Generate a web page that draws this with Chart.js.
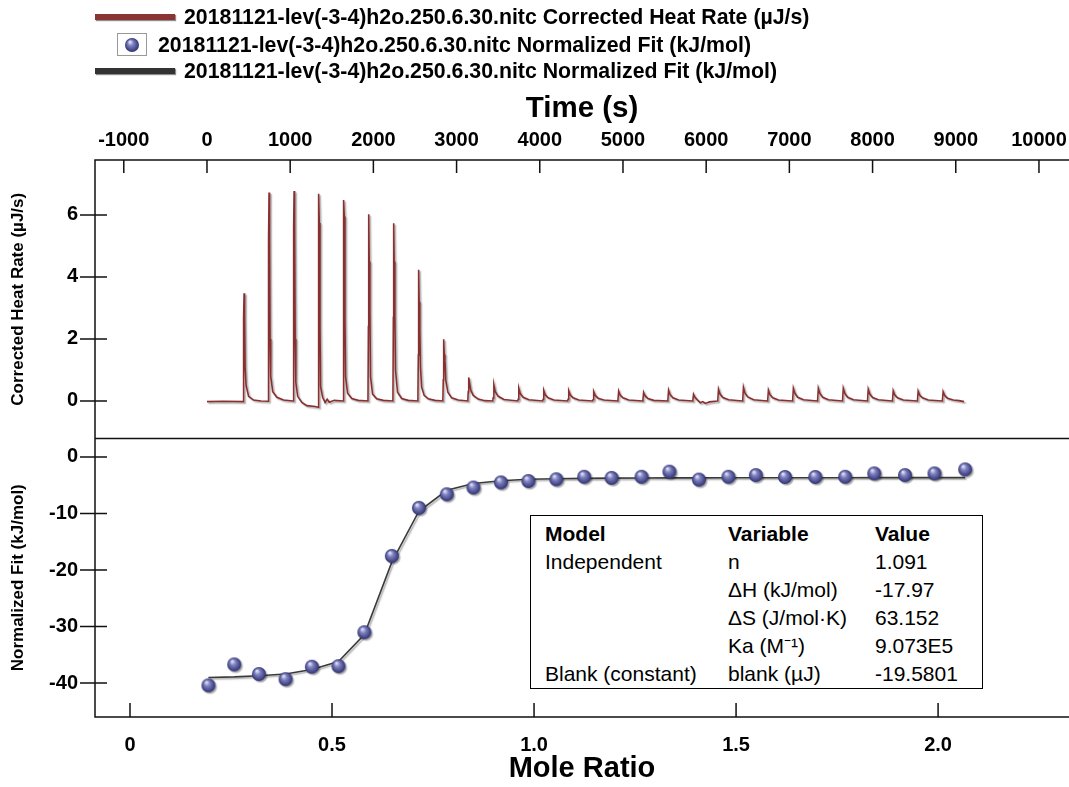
<!DOCTYPE html>
<html>
<head>
<meta charset="utf-8">
<script src="https://cdn.jsdelivr.net/npm/chart.js@4.4.0/dist/chart.umd.min.js"></script>
<style>
  body { margin: 0; background: #fff; }
  #wrap { position: relative; width: 1069px; height: 787px; font-family: "Liberation Sans", Arial, sans-serif; color: #000; overflow: hidden; }
  #chart { position: absolute; left: 0; top: 0; }
  .leg { position: absolute; font-weight: bold; font-size: 21.3px; line-height: 24px; white-space: nowrap; }
  .bar { position: absolute; left: 95px; width: 80px; height: 6px; box-shadow: 1px 1px 1px rgba(0,0,0,.45); }
  .mark { position: absolute; left: 117px; top: 33px; width: 30px; height: 23px; border: 1px solid #999; background: #fff; box-sizing: border-box; }
  .mark img { position: absolute; left: 6px; top: 3px; }
  #params { position: absolute; left: 530px; top: 515px; width: 453px; height: 174px; border: 1.5px solid #000;
            box-sizing: border-box; background: #fff; font-size: 21px; padding: 4px 0 0 14px; }
  #params table { border-collapse: collapse; }
  #params td { padding: 0; height: 28px; line-height: 28px; white-space: nowrap; }
  #params tr:first-child td { font-weight: bold; }
</style>
</head>
<body>
<div id="wrap">
  <canvas id="chart" width="1069" height="787"></canvas>
  <div class="bar" style="top:14px;background:#8a3434"></div>
  <div class="leg" id="leg0" style="left:184px;top:5px"></div>
  <div class="mark"><img id="legDot" alt=""></div>
  <div class="leg" id="leg1" style="left:158px;top:33px"></div>
  <div class="bar" style="top:68px;background:#333"></div>
  <div class="leg" id="leg2" style="left:184px;top:59px"></div>
  <div id="params"><table id="ptable"></table></div>
</div>
<script>
// series names
const seriesNames = [
    '20181121-lev(-3-4)h2o.250.6.30.nitc Corrected Heat Rate (µJ/s)',
    '20181121-lev(-3-4)h2o.250.6.30.nitc Normalized Fit (kJ/mol)',
    '20181121-lev(-3-4)h2o.250.6.30.nitc Normalized Fit (kJ/mol)'
];

// raw heat rate trace [time (s), µJ/s]
const heatTrace = [
    [0, -0.02], [200, -0.01], [435, -0.02],
    [440, 2.7], [446, 3.47], [452, 2.7], [458, 1.1], [470, 0.5], [500, 0.15], [560, 0.03], [650, 0.0], [735, -0.01],
    [740, 5.2], [746, 6.72], [752, 5.2], [758, 2.0], [766, 0.8], [790, 0.3], [840, 0.12], [920, 0.03], [1035, 0.0],
    [1040, 4.55], [1043, 5.6], [1047, 6.77], [1053, 5.6], [1060, 2.0], [1068, 0.6], [1090, 0.15], [1140, -0.05], [1200, -0.15], [1300, -0.18], [1335, -0.2],
    [1340, 3.5], [1344, 6.68], [1350, 5.74], [1358, 2.4], [1366, 0.46], [1390, 0.12], [1420, -0.05], [1445, 0.06], [1470, -0.04], [1530, 0.02], [1635, 0.0],
    [1640, 3.16], [1644, 6.48], [1650, 5.95], [1658, 2.6], [1666, 0.78], [1690, 0.25], [1740, 0.08], [1820, 0.02], [1935, 0.0],
    [1940, 2.4], [1944, 6.02], [1950, 4.5], [1958, 2.83], [1966, 0.78], [1990, 0.22], [2040, 0.07], [2120, 0.02], [2235, 0.0],
    [2240, 2.7], [2244, 5.73], [2250, 4.5], [2258, 2.72], [2266, 1.0], [2290, 0.28], [2340, 0.08], [2420, 0.02], [2535, 0.0],
    [2540, 1.48], [2544, 4.23], [2550, 3.2], [2558, 2.29], [2566, 1.1], [2580, 0.45], [2610, 0.18], [2660, 0.07], [2740, 0.02], [2835, 0.0],
    [2840, 0.68], [2845, 1.99], [2852, 1.5], [2860, 1.32], [2870, 0.68], [2895, 0.28], [2940, 0.1], [3020, 0.03], [3135, 0.0],
    [3140, 0.3], [3146, 0.76], [3155, 0.6], [3170, 0.35], [3200, 0.18], [3260, 0.06], [3340, 0.01], [3435, 0.0],
    [3440, 0.1], [3448, 0.52], [3465, 0.3], [3500, 0.15], [3570, 0.05], [3735, 0.0],
    [3740, 0.05], [3748, 0.41], [3765, 0.24], [3800, 0.12], [3870, 0.04], [4035, 0.0],
    [4040, 0.05], [4048, 0.34], [4065, 0.2], [4100, 0.1], [4170, 0.03], [4335, 0.0],
    [4340, 0.05], [4348, 0.33], [4365, 0.2], [4400, 0.1], [4470, 0.03], [4635, 0.0],
    [4640, 0.04], [4648, 0.30], [4665, 0.18], [4700, 0.09], [4770, 0.03], [4935, 0.0],
    [4940, 0.05], [4948, 0.32], [4965, 0.19], [5000, 0.1], [5070, 0.03], [5235, 0.0],
    [5240, 0.04], [5248, 0.28], [5265, 0.17], [5300, 0.08], [5370, 0.02], [5535, 0.0],
    [5540, 0.05], [5548, 0.35], [5565, 0.21], [5600, 0.1], [5670, 0.03], [5835, 0.0],
    [5840, 0.03], [5848, 0.22], [5865, 0.12], [5900, 0.02], [5930, -0.06], [5960, -0.02], [5990, -0.08], [6040, -0.03], [6135, 0.0],
    [6140, 0.05], [6148, 0.38], [6165, 0.23], [6200, 0.11], [6270, 0.04], [6435, 0.0],
    [6440, 0.06], [6448, 0.44], [6465, 0.26], [6500, 0.13], [6570, 0.04], [6735, 0.0],
    [6740, 0.05], [6748, 0.35], [6765, 0.21], [6800, 0.1], [6870, 0.03], [7035, 0.0],
    [7040, 0.05], [7048, 0.41], [7065, 0.25], [7100, 0.12], [7170, 0.04], [7335, 0.0],
    [7340, 0.05], [7348, 0.41], [7365, 0.25], [7400, 0.12], [7470, 0.04], [7635, 0.0],
    [7640, 0.05], [7648, 0.41], [7665, 0.25], [7700, 0.12], [7770, 0.04], [7935, 0.0],
    [7940, 0.05], [7948, 0.38], [7965, 0.23], [8000, 0.11], [8070, 0.04], [8235, 0.0],
    [8240, 0.04], [8248, 0.33], [8265, 0.2], [8300, 0.1], [8370, 0.03], [8535, 0.0],
    [8540, 0.04], [8548, 0.32], [8565, 0.19], [8600, 0.1], [8670, 0.03], [8835, 0.0],
    [8840, 0.04], [8848, 0.30], [8865, 0.18], [8900, 0.09], [8970, 0.03], [9040, 0.01], [9100, -0.02]
];

// integrated injections
const moleRatio = [0.194, 0.258, 0.319, 0.385, 0.450, 0.516, 0.580, 0.648, 0.715, 0.784, 0.850, 0.918, 0.986, 1.055,
    1.124, 1.192, 1.266, 1.335, 1.408, 1.481, 1.549, 1.621, 1.696, 1.770, 1.842, 1.918, 1.991, 2.067];
const normHeat = [-40.4, -36.7, -38.4, -39.3, -37.1, -37.0, -31.0, -17.5, -9.0, -6.6, -5.4, -4.5, -4.25, -3.95,
    -3.5, -3.7, -3.5, -2.6, -4.0, -3.5, -3.2, -3.54, -3.54, -3.5, -2.9, -3.2, -2.9, -2.2];
const fitHeat = [-39.0, -38.9, -38.7, -38.4, -37.6, -36.2, -31.4, -18.6, -9.6, -5.9, -4.7, -4.2, -3.95, -3.85,
    -3.78, -3.74, -3.72, -3.70, -3.69, -3.68, -3.68, -3.67, -3.67, -3.67, -3.66, -3.66, -3.66, -3.66];

// tick values
const timeTicks = [-1000, 0, 1000, 2000, 3000, 4000, 5000, 6000, 7000, 8000, 9000, 10000];
const heatTicks = [0, 2, 4, 6];
const fitTicks = [-40, -30, -20, -10, 0];
const moleTicks = [0, 0.5, 1, 1.5, 2];
const moleTickLabels = ['0', '0.5', '1.0', '1.5', '2.0'];

// fit results box
const fitParams = [
    ['Model', 'Variable', 'Value'],
    ['Independent', 'n', '1.091'],
    ['', 'ΔH (kJ/mol)', '-17.97'],
    ['', 'ΔS (J/mol·K)', '63.152'],
    ['', 'Ka (M⁻¹)', '9.073E5'],
    ['Blank (constant)', 'blank (µJ)', '-19.5801']
];

seriesNames.forEach((s, i) => { document.getElementById('leg' + i).textContent = s; });
document.getElementById('ptable').innerHTML = fitParams.map(r =>
    '<tr><td style="width:183px">' + r[0] + '</td><td style="width:147px">' + r[1] + '</td><td>' + r[2] + '</td></tr>').join('');

// shaded ball used for the data points
function sphere(r) {
    const c = document.createElement('canvas');
    c.width = c.height = 2 * r + 2;
    const g = c.getContext('2d');
    const m = r + 1;
    const grad = g.createRadialGradient(m - r * 0.3, m - r * 0.45, r * 0.1, m, m, r);
    grad.addColorStop(0, '#d9daf2');
    grad.addColorStop(0.35, '#7e81bf');
    grad.addColorStop(1, '#2f3172');
    g.fillStyle = grad;
    g.beginPath(); g.arc(m, m, r, 0, Math.PI * 2); g.fill();
    return c;
}
const ball = sphere(7);
document.getElementById('legDot').src = ball.toDataURL();

Chart.defaults.font.family = '"Liberation Sans", Arial, sans-serif';
Chart.defaults.color = '#000';

const fixTicks = list => s => { s.ticks = list.map(v => ({ value: v })); };
const tickFont = { size: 20, weight: 'bold' };

// frame, divider and crossing ticks, plus soft shadows on the series
const framePlugin = {
    id: 'frame',
    beforeDatasetDraw(chart) {
        const ctx = chart.ctx;
        ctx.save();
        ctx.shadowColor = 'rgba(0,0,0,0.35)';
        ctx.shadowOffsetX = 1.5;
        ctx.shadowOffsetY = 1.5;
        ctx.shadowBlur = 1.5;
    },
    afterDatasetDraw(chart) { chart.ctx.restore(); },
    afterDraw(chart) {
        const ctx = chart.ctx;
        const { left, right, top, bottom } = chart.chartArea;
        const xt = chart.scales.xTime, xm = chart.scales.xMole;
        const yh = chart.scales.yHeat, yf = chart.scales.yFit;
        ctx.save();
        ctx.strokeStyle = '#111';
        ctx.lineWidth = 1.5;
        ctx.beginPath();
        ctx.moveTo(right, top); ctx.lineTo(left, top); ctx.lineTo(left, bottom); ctx.lineTo(right, bottom);
        ctx.moveTo(left, yh.bottom); ctx.lineTo(right, yh.bottom);
        xt.ticks.forEach(t => { const x = xt.getPixelForValue(t.value); ctx.moveTo(x, top); ctx.lineTo(x, top + 13); });
        xm.ticks.forEach(t => { const x = xm.getPixelForValue(t.value); ctx.moveTo(x, bottom); ctx.lineTo(x, bottom - 14); });
        [yh, yf].forEach(s => s.ticks.forEach(t => {
            const y = s.getPixelForValue(t.value);
            ctx.moveTo(left - 15, y); ctx.lineTo(left + 12, y);
        }));
        ctx.stroke();
        ctx.restore();
    }
};

const noSidePad = h => s => { s.height = h; s.paddingLeft = 0; s.paddingRight = 0; };

new Chart(document.getElementById('chart'), {
    type: 'scatter',
    data: {
        datasets: [
            {
                label: seriesNames[1],
                data: moleRatio.map((x, i) => ({ x, y: normHeat[i] })),
                xAxisID: 'xMole', yAxisID: 'yFit',
                pointStyle: ball, pointRadius: 7,
                order: 0
            },
            {
                label: seriesNames[2],
                data: moleRatio.map((x, i) => ({ x, y: fitHeat[i] })),
                xAxisID: 'xMole', yAxisID: 'yFit',
                showLine: true, borderColor: '#3a3a3a', borderWidth: 1.6, pointRadius: 0, tension: 0,
                order: 1
            },
            {
                label: seriesNames[0],
                data: heatTrace.map(([x, y]) => ({ x, y })),
                xAxisID: 'xTime', yAxisID: 'yHeat',
                showLine: true, borderColor: '#8a2f2f', borderWidth: 1.6, pointRadius: 0, tension: 0,
                order: 2
            }
        ]
    },
    options: {
        responsive: false,
        animation: false,
        events: [],
        layout: { autoPadding: false, padding: { top: 82, left: 0, right: 0, bottom: 0 } },
        plugins: { legend: { display: false }, tooltip: { enabled: false } },
        scales: {
            xTime: {
                type: 'linear', position: 'top', min: -1346, max: 10361,
                afterBuildTicks: fixTicks(timeTicks),
                afterFit: noSidePad(78),
                grid: { display: false, drawTicks: false }, border: { display: false },
                ticks: { font: tickFont, padding: 8, maxRotation: 0, autoSkip: false, callback: v => String(v) },
                title: { display: true, text: 'Time (s)', font: { size: 29.5, weight: 'bold' }, padding: { top: 9, bottom: 0 } }
            },
            xMole: {
                type: 'linear', position: 'bottom', min: -0.0866, max: 2.324,
                afterBuildTicks: fixTicks(moleTicks),
                afterFit: noSidePad(70),
                grid: { display: false, drawTicks: false }, border: { display: false },
                ticks: { font: tickFont, padding: 16, maxRotation: 0, autoSkip: false, callback: (v, i) => moleTickLabels[i] },
                title: { display: true, text: 'Mole Ratio', font: { size: 29, weight: 'bold' }, padding: { top: 0, bottom: 1 } }
            },
            yFit: {
                type: 'linear', position: 'left', stack: 'left', stackWeight: 1, min: -46, max: 3.27,
                afterBuildTicks: fixTicks(fitTicks),
                afterFit: s => { s.width = 95; },
                grid: { display: false, drawTicks: false }, border: { display: false },
                ticks: { font: tickFont, padding: 17, callback: v => String(v) },
                title: { display: true, text: 'Normalized Fit (kJ/mol)', font: { size: 17, weight: 'bold' }, padding: { top: 8, bottom: 0 } }
            },
            yHeat: {
                type: 'linear', position: 'left', stack: 'left', stackWeight: 1, min: -1.21, max: 7.77,
                afterBuildTicks: fixTicks(heatTicks),
                afterFit: s => { s.width = 95; },
                grid: { display: false, drawTicks: false }, border: { display: false },
                ticks: { font: tickFont, padding: 17, callback: v => String(v) },
                title: { display: true, text: 'Corrected Heat Rate (µJ/s)', font: { size: 17, weight: 'bold' }, padding: { top: 8, bottom: 0 } }
            }
        }
    },
    plugins: [framePlugin]
});
</script>
</body>
</html>
